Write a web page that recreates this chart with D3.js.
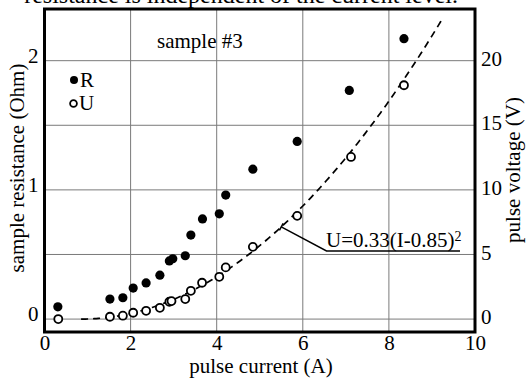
<!DOCTYPE html>
<html>
<head>
<meta charset="utf-8">
<script src="https://cdn.jsdelivr.net/npm/d3@7"></script>
<style>
  html, body { margin: 0; padding: 0; background: #fff; }
  svg { display: block; }
  text { font-family: "Liberation Serif", "Times New Roman", serif; fill: #000; }
</style>
</head>
<body>
<div id="chart"></div>
<script>
// values
const currentR = [0.31, 1.52, 1.82, 2.06, 2.36, 2.68, 2.90, 2.98, 3.27, 3.40, 3.67, 4.06, 4.21, 4.84, 5.87, 7.08, 8.35];
const resistance = [0.095, 0.155, 0.165, 0.24, 0.28, 0.34, 0.45, 0.467, 0.49, 0.65, 0.775, 0.815, 0.96, 1.16, 1.375, 1.77, 2.17];

const currentU = [0.32, 1.52, 1.82, 2.06, 2.36, 2.68, 2.90, 2.95, 3.27, 3.40, 3.66, 4.06, 4.21, 4.84, 5.87, 7.12, 8.35];
const voltage = [0, 0.18, 0.26, 0.49, 0.64, 0.87, 1.34, 1.39, 1.55, 2.19, 2.81, 3.27, 4.0, 5.59, 7.99, 12.55, 18.1];

// fit printed on the chart: U = 0.33 (I - 0.85)^2
const fitA = 0.33;
const fitI0 = 0.85;
const fitIMax = 9.26;

const xTicks = [0, 2, 4, 6, 8, 10];
const rTicks = [0, 1, 2];
const vTicks = [0, 5, 10, 15, 20];

const width = 526, height = 380;
const margin = { top: 9, right: 51, bottom: 48, left: 44.5 };

const svg = d3.select("#chart")
    .append("svg")
    .attr("width", width)
    .attr("height", height)
    .attr("viewBox", [0, 0, width, height]);

const x = d3.scaleLinear([0, 10], [margin.left, width - margin.right]);
const yR = d3.scaleLinear([-0.1, 2.4], [height - margin.bottom, margin.top]);
const yV = d3.scaleLinear([-1, 24], [height - margin.bottom, margin.top]);

// line of page text above the figure, cut by the top edge as in the scan
svg.append("text")
    .attr("x", 458)
    .attr("y", 3)
    .attr("text-anchor", "end")
    .style("font-size", "24px")
    .text("resistance is independent of the current level.");

// grid
const grid = svg.append("g")
    .attr("stroke", "#7a7a7a")
    .attr("stroke-width", 1);

grid.selectAll(".vx")
    .data(xTicks.slice(1, -1))
    .join("line")
    .attr("x1", d => x(d)).attr("x2", d => x(d))
    .attr("y1", margin.top).attr("y2", height - margin.bottom);

grid.selectAll(".hy")
    .data(vTicks)
    .join("line")
    .attr("x1", margin.left).attr("x2", width - margin.right)
    .attr("y1", d => yV(d)).attr("y2", d => yV(d));

// axes
const fontSize = "21px";

svg.append("g")
    .attr("transform", `translate(0,${height - margin.bottom})`)
    .call(d3.axisBottom(x).tickValues(xTicks).tickSize(0).tickPadding(3))
    .call(g => g.select(".domain").remove())
    .call(g => g.selectAll("text").style("font-size", fontSize).style("font-family", null));

svg.append("g")
    .attr("transform", `translate(${margin.left},0)`)
    .call(d3.axisLeft(yR).tickValues(rTicks).tickFormat(d3.format("d")).tickSize(0).tickPadding(6))
    .call(g => g.select(".domain").remove())
    .call(g => g.selectAll("text").attr("dy", "0.08em").style("font-size", fontSize).style("font-family", null));

svg.append("g")
    .attr("transform", `translate(${width - margin.right},0)`)
    .call(d3.axisRight(yV).tickValues(vTicks).tickSize(0).tickPadding(6))
    .call(g => g.select(".domain").remove())
    .call(g => g.selectAll("text").attr("dy", "0.22em").style("font-size", fontSize).style("font-family", null));

// axis titles
svg.append("text")
    .attr("x", 261)
    .attr("y", 373)
    .attr("text-anchor", "middle")
    .style("font-size", fontSize)
    .text("pulse current (A)");

svg.append("text")
    .attr("transform", "translate(24,168) rotate(-90)")
    .attr("text-anchor", "middle")
    .style("font-size", fontSize)
    .text("sample resistance (Ohm)");

svg.append("text")
    .attr("transform", "translate(520,170) rotate(-90)")
    .attr("text-anchor", "middle")
    .style("font-size", fontSize)
    .text("pulse voltage (V)");

// fit curve
const fitI = d3.range(fitI0, fitIMax, 0.05).concat([fitIMax]);
const fitLine = d3.line()
    .x(i => x(i))
    .y(i => yV(fitA * (i - fitI0) * (i - fitI0)));

svg.append("path")
    .datum(fitI)
    .attr("fill", "none")
    .attr("stroke", "#000")
    .attr("stroke-width", 1.7)
    .attr("stroke-dasharray", "7,5")
    .attr("d", fitLine);

// annotation for the fit
const annI = 5.5;
const ax0 = x(annI), ay0 = yV(fitA * (annI - fitI0) ** 2);
const ax1 = 326.5, ay1 = 251, ax2 = 460;
const ann = svg.append("g").attr("stroke", "#000").attr("stroke-width", 1.5).attr("fill", "none");
ann.append("polyline")
    .attr("points", [[ax0, ay0], [ax1, ay1], [ax2, ay1]].map(p => p.join(",")).join(" "));
// small bar where the leader touches the curve
const ang = Math.atan2(ay1 - ay0, ax1 - ax0) + Math.PI / 2;
ann.append("line")
    .attr("x1", ax0 - 4 * Math.cos(ang)).attr("y1", ay0 - 4 * Math.sin(ang))
    .attr("x2", ax0 + 4 * Math.cos(ang)).attr("y2", ay0 + 4 * Math.sin(ang));

const fitLabel = svg.append("text")
    .attr("x", 326)
    .attr("y", 247)
    .style("font-size", fontSize);
fitLabel.append("tspan").text("U=0.33(I-0.85)");
fitLabel.append("tspan").attr("dy", "-0.42em").style("font-size", "14px").text("2");

// data points
svg.append("g")
    .selectAll("circle")
    .data(d3.range(currentU.length))
    .join("circle")
    .attr("cx", i => x(currentU[i]))
    .attr("cy", i => yV(voltage[i]))
    .attr("r", 4)
    .attr("fill", "#fff")
    .attr("stroke", "#000")
    .attr("stroke-width", 1.8);

svg.append("g")
    .selectAll("circle")
    .data(d3.range(currentR.length))
    .join("circle")
    .attr("cx", i => x(currentR[i]))
    .attr("cy", i => yR(resistance[i]))
    .attr("r", 4.6)
    .attr("fill", "#000");

// frame
svg.append("rect")
    .attr("x", margin.left)
    .attr("y", margin.top)
    .attr("width", width - margin.right - margin.left)
    .attr("height", height - margin.bottom - margin.top)
    .attr("fill", "none")
    .attr("stroke", "#000")
    .attr("stroke-width", 3);

// label and legend
svg.append("text")
    .attr("x", 157)
    .attr("y", 48)
    .style("font-size", fontSize)
    .text("sample #3");

svg.append("circle").attr("cx", 74).attr("cy", 80).attr("r", 4).attr("fill", "#000");
svg.append("text").attr("x", 80).attr("y", 87).style("font-size", fontSize).text("R");
svg.append("circle").attr("cx", 73.5).attr("cy", 103.5).attr("r", 3.4)
    .attr("fill", "#fff").attr("stroke", "#000").attr("stroke-width", 1.8);
svg.append("text").attr("x", 79).attr("y", 110).style("font-size", fontSize).text("U");
</script>
</body>
</html>
